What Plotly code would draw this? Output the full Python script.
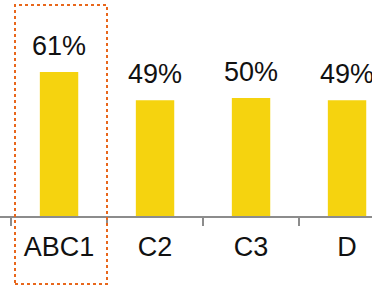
import plotly.graph_objects as go

categories = ["ABC1", "C2", "C3", "D"]
values = [61, 49, 50, 49]
labels = ["61%", "49%", "50%", "49%"]

BAR = "#F5D30F"
FONT = "Liberation Sans, Arial, sans-serif"

fig = go.Figure(go.Bar(x=categories, y=values, marker_color=BAR, width=0.4,
                       marker_line_width=0))

for c, v, t in zip(categories, values, labels):
    fig.add_annotation(x=c, y=v, text=t, showarrow=False, yanchor="bottom",
                       yshift=9, font=dict(family=FONT, size=27, color="#111111"))

fig.add_shape(type="rect", xref="paper", yref="paper",
              x0=15/372, x1=107/372, y0=(216-284)/216, y1=(216-5)/216,
              line=dict(color="#E8671C", width=2, dash="dot"))

fig.update_layout(
    width=372, height=285,
    margin=dict(l=0, r=0, t=0, b=69),
    paper_bgcolor="white", plot_bgcolor="white",
    showlegend=False,
    xaxis=dict(range=[-0.615, 3.26], tickson="boundaries", ticks="outside",
               ticklen=8, tickcolor="#8C8C8C", tickwidth=1.5,
               showline=True, linecolor="#8C8C8C", linewidth=2,
               tickfont=dict(family=FONT, size=27, color="#111111"),
               ticklabelstandoff=6, showgrid=False, zeroline=False),
    yaxis=dict(range=[0, 91.5], visible=False, showgrid=False, zeroline=False),
)

fig.write_html("out.html", config={"displayModeBar": False},
               post_script="document.body.style.margin='0';")
